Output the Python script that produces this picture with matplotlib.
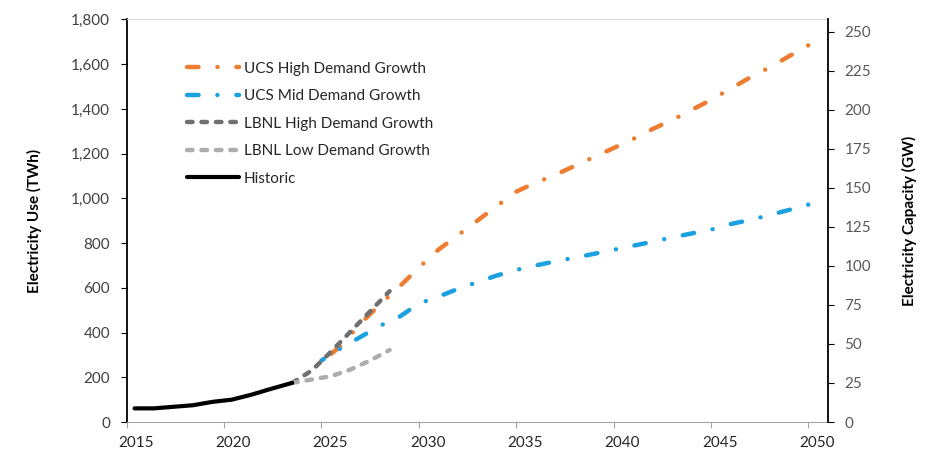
import matplotlib
matplotlib.use("Agg")
import matplotlib.pyplot as plt
import matplotlib.transforms as mtransforms
from matplotlib.ticker import FuncFormatter

plt.rcParams['font.family'] = ['Lato', 'DejaVu Sans']
plt.rcParams['lines.scale_dashes'] = False

# historic use (TWh)
hist_years = [2015.4, 2016.4, 2017.4, 2018.4, 2019.4, 2020.4, 2021.4, 2022.4, 2023.5]
hist_use = [61, 61, 68, 75, 90, 100, 122, 148, 175]

# LBNL projections
lbnl_years = [2023.5, 2024.5, 2025.5, 2026.5, 2027.5, 2028.5]
lbnl_high = [175, 230, 315, 405, 495, 585]
lbnl_low = [175, 190, 205, 235, 275, 322]

# UCS projections
ucs_years = list(range(2025, 2051))
ucs_high = [270, 340, 440, 525, 605, 690, 770, 835, 900, 965,
            1030, 1070, 1105, 1145, 1185, 1225, 1265, 1310, 1350, 1395,
            1440, 1490, 1540, 1585, 1635, 1684]
ucs_mid = [275, 330, 380, 430, 470, 530, 560, 595, 625, 655,
           680, 700, 718, 735, 752, 770, 788, 806, 825, 843,
           860, 885, 903, 925, 948, 972]

orange = '#ED7D31'
blue = '#1BA1E2'
dark_gray = '#707070'
light_gray = '#ADADAD'

fig = plt.figure(figsize=(9.36, 4.74), dpi=100)
ax = fig.add_axes([0.1354, 0.1097, 0.7489, 0.8492])

lw = 3.2
# drawn from 2050 backwards so the pattern ends on a dot at 2050
dotdash = (0, (0.05, 13.6, 8.3, 13.6))
dashdot = (0, (8.3, 13.6, 0.05, 13.6))
dash = (0, (4.0, 6.4))

ax.plot(ucs_years[::-1], ucs_high[::-1], color=orange, lw=lw, linestyle=dotdash,
        dash_capstyle='round', label='UCS High Demand Growth')
ax.plot(ucs_years[::-1], ucs_mid[::-1], color=blue, lw=lw, linestyle=dotdash,
        dash_capstyle='round', label='UCS Mid Demand Growth')
ax.plot(lbnl_years, lbnl_high, color=dark_gray, lw=lw, linestyle=dash,
        dash_capstyle='round', label='LBNL High Demand Growth')
ax.plot(lbnl_years, lbnl_low, color=light_gray, lw=lw, linestyle=dash,
        dash_capstyle='round', label='LBNL Low Demand Growth')
ax.plot(hist_years, hist_use, color='black', lw=3.0,
        solid_capstyle='round', label='Historic')

ax.set_xlim(2015, 2051)
ax.set_ylim(0, 1800)
ax.set_xticks(range(2015, 2051, 5))
ax.set_yticks(range(0, 1801, 200))
ax.yaxis.set_major_formatter(FuncFormatter(lambda v, p: '{:,}'.format(int(v))))

ax.spines['top'].set_color('#D9D9D9')
ax.spines['bottom'].set_color('#A6A6A6')
ax.spines['left'].set_color('black')
ax.spines['left'].set_linewidth(1.3)
ax.spines['right'].set_visible(False)

ax.tick_params(axis='x', colors='#A6A6A6', labelcolor='#262626', labelsize=11,
               length=4, pad=6)
ax.tick_params(axis='y', colors='black', labelcolor='#404040', labelsize=11,
               length=4, pad=8)
offset = mtransforms.ScaledTranslation(0.09, 0, fig.dpi_scale_trans)
for lab in ax.get_xticklabels():
    lab.set_transform(lab.get_transform() + offset)

ax.set_ylabel('Electricity Use (TWh)', fontsize=11, fontweight='bold',
              color='black', labelpad=21)

ax2 = ax.twinx()
ax2.set_ylim(0, 258)
ax2.set_yticks(range(0, 251, 25))
ax2.spines['right'].set_color('black')
ax2.spines['right'].set_linewidth(1.3)
ax2.spines['top'].set_visible(False)
ax2.spines['left'].set_visible(False)
ax2.spines['bottom'].set_visible(False)
ax2.tick_params(axis='y', colors='black', labelcolor='#595959', labelsize=11,
                length=4, pad=8)
ax2.set_ylabel('Electricity Capacity (GW)', fontsize=11, fontweight='bold',
               color='black', labelpad=22)

leg = ax.legend(loc='upper left', bbox_to_anchor=(0.086, 0.895), frameon=False,
                fontsize=11, handlelength=3.4, handletextpad=0.3,
                labelspacing=0.88, borderpad=0, borderaxespad=0)
for t in leg.get_texts():
    t.set_color('#262626')
# legend samples start with the dash
for h in leg.legend_handles[:2]:
    h.set_linestyle(dashdot)

fig.savefig('out.png', dpi=100)
